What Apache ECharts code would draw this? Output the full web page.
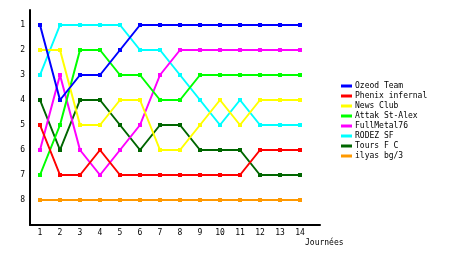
<!DOCTYPE html>
<html><head><meta charset="utf-8">
<script src="https://cdn.jsdelivr.net/npm/echarts@6/dist/echarts.min.js"></script>
<style>html,body{margin:0;padding:0;background:#fff}#c{width:460px;height:255px}</style>
</head><body><div id="c"></div>
<script>
const journees = [1,2,3,4,5,6,7,8,9,10,11,12,13,14];
const teams = ['Ozeod Team','Phenix infernal','News Club','Attak St-Alex','FullMetal76','RODEZ SF','Tours F C','ilyas bg/3'];
const colors = ['#0000ff','#ff0000','#ffff00','#00ff00','#ff00ff','#00ffff','#006600','#ff9900'];
const ozeod   = [1,4,3,3,2,1,1,1,1,1,1,1,1,1];
const phenix  = [5,7,7,6,7,7,7,7,7,7,7,6,6,6];
const news    = [2,2,5,5,4,4,6,6,5,4,5,4,4,4];
const attak   = [7,5,2,2,3,3,4,4,3,3,3,3,3,3];
const fullm   = [6,3,6,7,6,5,3,2,2,2,2,2,2,2];
const rodez   = [3,1,1,1,1,2,2,3,4,5,4,5,5,5];
const tours   = [4,6,4,4,5,6,5,5,6,6,6,7,7,7];
const ilyas   = [8,8,8,8,8,8,8,8,8,8,8,8,8,8];
const values = [ozeod,phenix,news,attak,fullm,rodez,tours,ilyas];
const yTicks = [1,2,3,4,5,6,7,8];

const font = '"DejaVu Sans Mono", monospace';
const chart = echarts.init(document.getElementById('c'), null, {renderer:'canvas'});
chart.setOption({
  animation:false,
  backgroundColor:'#fff',
  grid:{left:30, right:140, top:10, bottom:30},
  xAxis:{type:'value', min:0.5, max:15, interval:0.5,
    axisLine:{lineStyle:{color:'#000', width:2}}, axisTick:{show:false}, splitLine:{show:false},
    axisLabel:{color:'#000', fontFamily:font, fontSize:8, margin:4, showMinLabel:true, showMaxLabel:true,
      formatter:v=>{const r=Math.round(v);return (Math.abs(v-r)<1e-6 && journees.includes(r))?String(r):'';}}},
  yAxis:{type:'value', inverse:true, min:0.4, max:9, interval:0.2,
    axisLine:{show:true, lineStyle:{color:'#000', width:2}}, axisTick:{show:false}, splitLine:{show:false},
    axisLabel:{color:'#000', fontFamily:font, fontSize:8, margin:5,
      formatter:v=>{const r=Math.round(v);return (Math.abs(v-r)<1e-6 && yTicks.includes(r))?String(r):'';}}},
  legend:{orient:'vertical', left:341, top:81, padding:0, icon:'rect', itemWidth:11, itemHeight:3, itemGap:0,
    selectedMode:false, data:teams,
    textStyle:{color:'#000', fontFamily:font, fontSize:8, lineHeight:10, padding:[0,0,0,-2]}},
  graphic:[{type:'text', left:305, top:239, style:{text:'Journées', fill:'#000', font:'8px '+font}}],
  series: teams.map((t,i)=>({
    name:t, type:'line', color:colors[i],
    data: journees.map((j,k)=>[j, values[i][k]]),
    symbol:'rect', symbolSize:4, showSymbol:true,
    lineStyle:{width:2, color:colors[i]}, itemStyle:{color:colors[i]},
    z: 10 - i
  }))
});
</script></body></html>
